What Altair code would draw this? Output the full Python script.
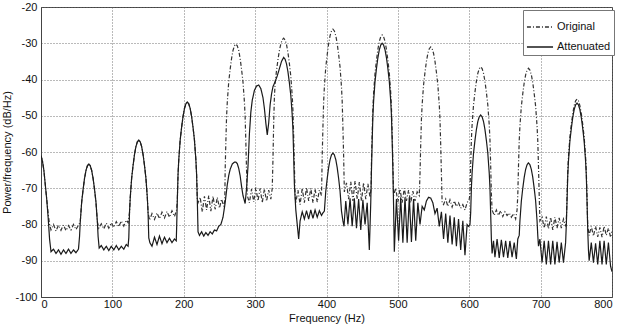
import altair as alt
import pandas as pd

series_names = ["Original", "Attenuated"]
x_ticks = [0, 100, 200, 300, 400, 500, 600, 700, 800]
y_ticks = [-100, -90, -80, -70, -60, -50, -40, -30, -20]

# (frequency Hz, power dB/Hz)
orig_points = [
    (0, -61), (2, -62.5), (4, -65), (6, -69), (8, -73), (10, -77), (12, -80), (14, -81.5),
    (17.5, -80), (21, -81.8), (24.5, -80.2), (28, -81.6), (31.5, -80.1), (35, -81.7), (38.5, -80.3),
    (42, -81.5), (45.5, -80), (49, -81.4), (52.5, -80.2),
    (55, -79.3), (57, -73.8), (59, -70.3), (61, -67.3), (63, -65.1), (65, -63.8), (67, -63.3), (69, -63.8),
    (71, -65.1), (73, -67.3), (75, -70.3), (77, -73.8), (79, -79.3),
    (81, -81), (84.5, -79.8), (88, -81.2), (91.5, -79.6), (95, -81), (98.5, -79.5), (102, -80.8),
    (105.5, -79.2), (109, -80.6), (112.5, -79), (116, -80.4), (119.5, -78.8), (122, -79.5),
    (124, -76.7), (125, -72.7), (127, -67.2), (129, -63.7), (131, -60.7), (133, -58.5), (135, -57.2),
    (137, -56.7), (139, -57.2), (141, -58.5), (143, -60.7), (145, -63.7), (147, -67.2), (149, -72.7), (150, -76.7),
    (152, -78.8), (155.5, -77), (159, -78.6), (162.5, -76.8), (166, -78.4), (169.5, -76.6), (173, -78.2),
    (176.5, -76.4), (180, -78), (183.5, -76.2), (187, -77.8), (190, -76),
    (191, -73.2), (192, -66.2), (193, -62.2), (195, -56.7), (197, -53.2), (199, -50.2), (201, -48), (203, -46.7),
    (205, -46.2), (207, -46.7), (209, -48), (211, -50.2), (213, -53.2), (215, -56.7), (217, -62.2), (218, -66.2), (219, -73.2),
    (220, -74), (223, -72.5), (226, -76.5), (229, -72.2), (232, -76), (235, -72), (238, -76.3), (241, -72.2),
    (244, -75.8), (247, -72.5), (250, -75.5), (253, -73), (256, -75), (257.5, -73.5),
    (258, -65.2), (259, -57.2), (260, -50.2), (261, -46.2), (263, -40.7), (265, -37.2), (267, -34.2), (269, -32),
    (271, -30.7), (273, -30.2), (275, -30.7), (277, -32), (279, -34.2), (281, -37.2), (283, -40.7), (285, -46.2),
    (286, -50.2), (287, -57.2), (288, -65.2), (289, -72),
    (292, -74), (295, -70.2), (298, -73.8), (301, -69.8), (304, -73.5), (307, -70), (310, -74), (313, -70.2),
    (316, -73.6), (319, -70.5), (322, -73), (324, -70),
    (325, -62), (326, -52), (327, -45), (328, -41), (330, -37.5), (332, -34.5), (334, -32), (336, -30.2), (338, -29),
    (340, -28.6), (342, -29.1), (344, -30.4), (346, -32.6), (348, -35.6), (350, -39.1), (352, -44.6), (353, -48.6),
    (354, -55.6), (355, -63.6), (356, -72),
    (357, -74), (360, -70.5), (363, -74.5), (366, -70), (369, -74), (372, -69.8), (375, -73.5), (378, -70),
    (381, -74), (384, -70.2), (387, -73.8), (390, -70.5), (393, -72),
    (394, -61.1), (395, -53.1), (396, -46.1), (397, -42.1), (399, -36.6), (401, -33.1), (403, -30.1), (405, -27.9),
    (407, -26.6), (409, -26.1), (411, -26.6), (413, -27.9), (415, -30.1), (417, -33.1), (419, -36.6), (421, -42.1),
    (422, -46.1), (423, -53.1), (424, -61.1), (425, -71),
    (428, -68.5), (431, -73), (434, -68.2), (437, -73.5), (440, -68), (443, -73), (446, -68.3), (449, -73.5),
    (452, -68.5), (455, -73), (458, -68.8), (461, -72.5), (462.5, -70),
    (463, -62.7), (464, -54.7), (465, -47.7), (466, -43.7), (468, -38.2), (470, -34.7), (472, -31.7), (474, -29.5),
    (476, -28.2), (478, -27.7), (480, -28.2), (482, -29.5), (484, -31.7), (486, -34.7), (488, -38.2), (490, -43.7),
    (491, -47.7), (492, -54.7), (493, -62.7), (494, -72),
    (497, -70), (500, -73.8), (503, -70.2), (506, -74), (509, -70), (512, -73.5), (515, -70.5), (518, -74),
    (521, -70.8), (524, -73.5), (527, -71), (530, -72),
    (531, -66), (532, -58), (533, -51), (534, -47), (536, -41.5), (538, -38), (540, -35), (542, -32.8), (544, -31.5),
    (546, -31), (548, -31.5), (550, -32.8), (552, -35), (554, -38), (556, -41.5), (558, -47), (559, -51), (560, -58),
    (561, -66), (562, -74),
    (564, -74.5), (567, -73), (570, -75), (573, -73.2), (576, -75.2), (579, -73.5), (582, -75), (585, -74),
    (588, -75.5), (591, -74.5), (594, -76), (597, -74), (600, -73),
    (601, -71.5), (602, -63.5), (603, -56.5), (604, -52.5), (606, -47), (608, -43.5), (610, -40.5), (612, -38.3),
    (614, -37), (616, -36.5), (618, -37), (620, -38.3), (622, -40.5), (624, -43.5), (626, -47), (628, -52.5),
    (629, -56.5), (630, -63.5), (631, -71.5), (632, -76),
    (635, -77.5), (638, -76), (641, -77.5), (644, -76.2), (647, -77.8), (650, -76.5), (653, -77.5), (656, -76.8),
    (659, -78), (662, -77), (665, -78.5), (667, -76),
    (668, -71.9), (669, -63.9), (670, -56.9), (671, -52.9), (673, -47.4), (675, -43.9), (677, -40.9), (679, -38.7),
    (681, -37.4), (683, -36.9), (685, -37.4), (687, -38.7), (689, -40.9), (691, -43.9), (693, -47.4), (695, -52.9),
    (696, -56.9), (697, -63.9), (698, -71.9), (699, -79),
    (702, -78), (705, -81), (708, -77.8), (711, -81.2), (714, -78), (717, -81.5), (720, -78), (723, -81),
    (726, -78.2), (729, -81), (732, -78.5), (735, -80.5), (736, -79),
    (737, -72.4), (738, -65.4), (739, -61.4), (741, -55.9), (743, -52.4), (745, -49.4), (747, -47.2), (749, -45.9),
    (751, -45.4), (753, -45.9), (755, -47.2), (757, -49.4), (759, -52.4), (761, -55.9), (763, -61.4), (764, -65.4),
    (765, -72.4), (766, -80.4),
    (768, -83), (771, -80.5), (774, -83.2), (777, -80.5), (780, -83.4), (783, -80.8), (786, -83.5), (789, -80.5),
    (792, -83), (795, -81), (798, -83.5), (800, -82),
]

att_points = [
    (0, -61), (2, -62.5), (4, -65), (6, -69), (8, -73), (10, -78), (12, -84), (14, -87.5),
    (17.5, -86.8), (21, -88), (24.5, -87), (28, -88.2), (31.5, -87), (35, -88), (38.5, -86.8), (42, -88),
    (45.5, -87), (49, -87.8), (52.5, -86.8),
    (54, -83.3), (55, -79.3), (57, -73.8), (59, -70.3), (61, -67.3), (63, -65.1), (65, -63.8), (67, -63.3),
    (69, -63.8), (71, -65.1), (73, -67.3), (75, -70.3), (77, -73.8), (79, -79.3), (80, -83.3),
    (81.5, -86.5), (84.5, -85.8), (88, -87), (91.5, -86), (95, -87.2), (98.5, -86), (102, -87), (105.5, -85.8),
    (109, -87), (112.5, -86), (116, -86.8), (119.5, -85.5), (122, -86),
    (123, -83.7), (124, -76.7), (125, -72.7), (127, -67.2), (129, -63.7), (131, -60.7), (133, -58.5), (135, -57.2),
    (137, -56.7), (139, -57.2), (141, -58.5), (143, -60.7), (145, -63.7), (147, -67.2), (149, -72.7), (150, -76.7),
    (151, -83.7),
    (152.5, -85), (155.5, -86), (159, -83.5), (162.5, -85.5), (166, -83.2), (169.5, -85.3), (173, -83.5),
    (176.5, -85), (180, -83.8), (183.5, -85), (187, -84), (189.5, -84.5),
    (190, -81.2), (191, -73.2), (192, -66.2), (193, -62.2), (195, -56.7), (197, -53.2), (199, -50.2), (201, -48),
    (203, -46.7), (205, -46.2), (207, -46.7), (209, -48), (211, -50.2), (213, -53.2), (215, -56.7), (217, -62.2),
    (218, -66.2), (219, -73.2), (220, -82),
    (222, -83), (225, -82), (228, -83.2), (231, -82.2), (234, -83), (237, -82), (240, -82.6), (243, -81.5),
    (246, -81.8), (249, -80.5), (252, -80), (255, -78), (258, -74),
    (261, -69), (263, -66.5), (265, -64.8), (268, -63.3), (271, -62.8), (273, -62.8), (275, -63.2), (277, -64.5),
    (279, -66.5), (281, -69.5), (283, -72), (286, -74.2),
    (288, -70), (290, -64), (292, -55), (294, -49), (296, -45.7), (299, -43), (302, -41.8), (305, -41.5),
    (308, -42.5), (311, -45), (313, -48), (315, -52), (317, -55.3), (319, -52), (321, -47), (323, -44), (325, -42),
    (328, -40.6), (331, -39), (334, -37), (337, -35), (340, -33.9), (342, -34.4), (344, -35.7), (346, -37.9),
    (348, -40.9), (350, -44.4), (352, -49.9), (353, -53.9), (354, -60.9), (355, -68.9), (357, -76), (359, -80),
    (361, -84), (363, -79),
    (366, -76.5), (369, -78.5), (372, -76.2), (375, -78.5), (378, -76), (381, -78.3), (384, -76), (387, -78),
    (390, -76.2), (393, -77.5), (395, -76.8),
    (397, -76.3), (399, -70.8), (401, -67.3), (403, -64.3), (405, -62.1), (407, -60.8), (409, -60.3), (411, -60.8),
    (413, -62.1), (415, -64.3), (417, -67.3), (419, -70.8), (421, -76.3), (423, -79),
    (424.5, -80.5), (427, -73.5), (430, -80), (433, -72.8), (436, -80.5), (439, -72.8), (442, -81), (445, -73),
    (448, -81.5), (451, -73.2), (454, -80), (457, -74), (460, -87), (462, -74),
    (463, -65), (464, -57), (465, -50), (466, -46), (468, -40.5), (470, -37), (472, -34), (474, -31.8), (476, -30.5),
    (478, -30), (480, -30.5), (482, -31.8), (484, -34), (486, -37), (488, -40.5), (490, -46), (491, -50), (492, -57),
    (493, -65), (494, -75), (495, -87.5),
    (498, -73), (501, -84.5), (504, -72.5), (507, -85), (510, -72.5), (513, -85), (516, -72.5), (519, -84.8),
    (522, -73), (525, -84.5), (528, -74), (531, -80), (534, -75), (537, -76), (540, -73.5), (543, -72.5),
    (546, -72.7), (549, -74), (552, -77), (555, -75.5), (558, -80.5), (561, -76.5), (564, -84), (567, -77),
    (570, -85), (573, -77.5), (576, -85.5), (579, -78), (582, -86), (585, -78.5), (588, -87), (591, -79),
    (594, -88.5), (597, -80), (599, -80.5), (601, -80),
    (602, -76.8), (603, -69.8), (604, -65.8), (606, -60.3), (608, -56.8), (610, -53.8), (612, -51.6), (614, -50.3),
    (616, -49.8), (618, -50.3), (620, -51.6), (622, -53.8), (624, -56.8), (626, -60.3), (628, -65.8), (629, -69.8),
    (630, -76.8), (631, -84), (632, -88),
    (634, -84.5), (636, -89), (639, -84), (642, -89.2), (645, -84.2), (648, -89), (651, -84.5), (654, -89.2),
    (657, -84.5), (660, -89), (663, -85), (666, -89.5), (668, -84),
    (670, -83), (671, -79), (673, -73.5), (675, -70), (677, -67), (679, -64.8), (681, -63.5), (683, -63),
    (685, -63.5), (687, -64.8), (689, -67), (691, -70), (693, -73.5), (695, -79), (696, -83), (697, -86),
    (699, -84), (702, -90.5), (705, -84.5), (708, -91), (711, -84.5), (714, -91), (717, -84.5), (720, -91),
    (723, -84.8), (726, -90.5), (729, -85), (732, -90.5), (735, -85), (736, -80),
    (737, -73.5), (738, -66.5), (739, -62.5), (741, -57), (743, -53.5), (745, -50.5), (747, -48.3), (749, -47),
    (751, -46.5), (753, -47), (755, -48.3), (757, -50.5), (759, -53.5), (761, -57), (763, -62.5), (764, -66.5),
    (765, -73.5), (766, -81.5), (767, -87),
    (768, -90), (771, -85), (774, -90.5), (777, -85.2), (780, -91), (783, -84.5), (786, -91), (789, -84.5),
    (792, -91), (795, -85), (798, -91.5), (800, -93),
]

df_o = pd.DataFrame(orig_points, columns=["freq", "psd"])
df_o["series"] = series_names[0]
df_a = pd.DataFrame(att_points, columns=["freq", "psd"])
df_a["series"] = series_names[1]
df = pd.concat([df_o, df_a], ignore_index=True)

FONT = "Liberation Sans"

legend_kw = dict(
    title=None, orient="none", legendX=482, legendY=3,
    symbolType="stroke", symbolSize=680, symbolStrokeWidth=1.3,
    labelFont=FONT, labelFontSize=11, labelColor="#111",
    strokeColor="#777", fillColor="white", padding=3, rowPadding=1, labelOffset=3,
)

chart = alt.Chart(df).mark_line(strokeWidth=1.2, clip=True).encode(
    x=alt.X("freq:Q", scale=alt.Scale(domain=[0, 800], nice=False),
            axis=alt.Axis(values=x_ticks, title="Frequency (Hz)", titleY=24,
                          titleBaseline="alphabetic", labelPadding=1,
                          labelExpr="'' + datum.value")),
    y=alt.Y("psd:Q", scale=alt.Scale(domain=[-100, -20], nice=False),
            axis=alt.Axis(values=y_ticks, title="Power/frequency (dB/Hz)", titleX=-31,
                          titleBaseline="alphabetic", labelPadding=4,
                          labelExpr="'' + datum.value")),
    color=alt.Color("series:N", scale=alt.Scale(domain=series_names, range=["#333333", "#1a1a1a"]),
                    legend=alt.Legend(**legend_kw)),
    strokeDash=alt.StrokeDash("series:N", scale=alt.Scale(domain=series_names, range=[[4, 2, 1, 2], [1, 0]]),
                              legend=alt.Legend(**legend_kw)),
).properties(
    width=571, height=290,
    autosize=alt.AutoSizeParams(type="none"),
    padding={"left": 41, "top": 7, "right": 11, "bottom": 27},
).configure_view(
    stroke="#444", strokeWidth=1
).configure_axis(
    grid=True, gridDash=[1, 2], gridColor="#666", gridOpacity=0.9, gridWidth=1,
    ticks=False, domain=True, domainColor="#444",
    labelFont=FONT, labelFontSize=11, labelColor="#111",
    titleFont=FONT, titleFontSize=11, titleFontWeight="normal", titleColor="#111",
)

chart.save("out.html", embed_options={"renderer": "svg", "actions": False})
